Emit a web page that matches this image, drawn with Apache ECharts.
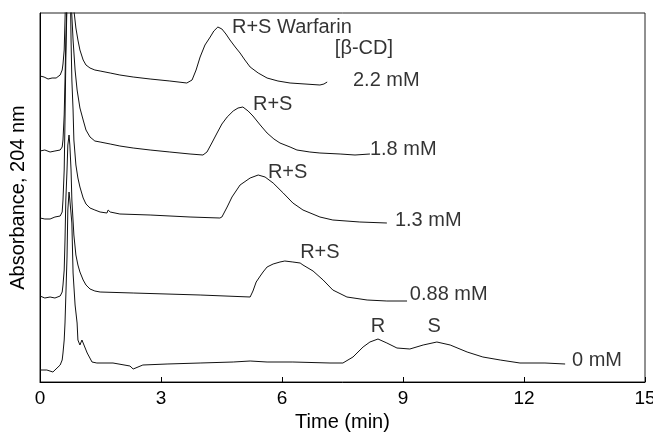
<!DOCTYPE html>
<html>
<head>
<meta charset="utf-8">
<script src="https://cdn.jsdelivr.net/npm/echarts@6/dist/echarts.min.js"></script>
<style>
  html, body { margin: 0; padding: 0; background: #fff; }
  #chart { width: 653px; height: 433px; }
</style>
</head>
<body>
<div id="chart"></div>
<script>
// chromatograms, [time (min), absorbance (arb. units, stacked offset included)]
const trace22 = [
  [0, 306], [0.10, 305], [0.20, 303], [0.30, 304], [0.40, 304], [0.50, 307], [0.55, 312], [0.57, 318],
  [0.60, 332], [0.62, 362], [0.64, 392], [0.72, 532], [0.79, 402], [0.84, 372], [0.89, 354], [0.94, 342],
  [0.99, 332], [1.07, 322], [1.14, 317], [1.24, 314], [1.36, 312], [1.49, 311], [1.74, 309], [1.98, 307],
  [2.31, 305], [2.73, 303], [3.22, 301], [3.64, 299], [3.77, 302], [3.87, 312], [3.97, 325], [4.09, 337],
  [4.22, 345], [4.31, 351], [4.41, 355], [4.51, 353], [4.61, 348], [4.71, 342], [4.84, 335], [4.96, 329],
  [5.08, 322], [5.21, 315], [5.41, 309], [5.63, 304], [5.90, 301], [6.20, 299], [6.57, 298], [6.94, 297],
  [7.04, 298], [7.12, 300]
]
const trace18 = [
  [0, 231], [0.12, 232], [0.25, 230], [0.37, 231], [0.50, 232], [0.55, 235], [0.57, 242], [0.60, 267],
  [0.62, 302], [0.64, 342], [0.67, 382], [0.72, 482], [0.77, 382], [0.82, 342], [0.87, 312], [0.92, 292],
  [0.99, 274], [1.07, 262], [1.14, 252], [1.24, 245], [1.36, 241], [1.49, 240], [1.74, 238], [1.98, 236],
  [2.31, 234], [2.73, 232], [3.22, 230], [3.72, 228], [4.04, 227], [4.14, 230], [4.26, 239], [4.39, 249],
  [4.51, 258], [4.64, 265], [4.79, 271], [4.91, 274], [5.03, 275], [5.16, 271], [5.28, 266], [5.46, 257],
  [5.63, 249], [5.80, 243], [5.95, 239], [6.20, 235], [6.37, 232], [6.69, 230], [6.94, 229], [7.44, 228],
  [7.81, 227], [8.18, 228]
]
const trace13 = [
  [0, 164], [0.12, 163], [0.25, 163], [0.37, 165], [0.50, 166], [0.55, 170], [0.57, 182], [0.60, 212],
  [0.62, 262], [0.64, 322], [0.67, 382], [0.72, 482], [0.77, 342], [0.79, 302], [0.82, 272], [0.84, 242],
  [0.89, 217], [0.94, 204], [0.99, 195], [1.07, 184], [1.14, 178], [1.24, 174], [1.36, 172], [1.49, 170],
  [1.66, 169], [1.69, 172], [1.74, 170], [1.98, 168], [2.73, 167], [3.72, 165], [4.46, 164], [4.51, 165],
  [4.64, 175], [4.76, 185], [4.96, 197], [5.21, 204], [5.41, 207], [5.58, 205], [5.78, 199], [6.03, 189],
  [6.27, 179], [6.52, 172], [6.94, 165], [7.26, 162], [7.93, 160], [8.60, 159]
]
const trace088 = [
  [0, 86], [0.12, 84], [0.25, 85], [0.37, 84], [0.50, 86], [0.55, 90], [0.57, 97], [0.60, 112],
  [0.62, 142], [0.64, 182], [0.67, 212], [0.69, 237], [0.72, 247], [0.74, 237], [0.77, 212], [0.79, 182],
  [0.84, 147], [0.89, 127], [0.94, 117], [0.99, 110], [1.07, 102], [1.14, 97], [1.24, 93], [1.36, 91],
  [1.49, 90], [2.31, 89], [3.97, 87], [5.21, 85], [5.28, 91], [5.36, 100], [5.46, 106], [5.53, 110],
  [5.63, 115], [5.78, 118], [5.95, 120], [6.07, 121], [6.27, 120], [6.45, 119], [6.52, 117], [6.77, 111],
  [7.02, 102], [7.26, 92], [7.61, 85], [8.11, 82], [8.60, 81], [9.10, 81]
]
const trace0 = [
  [0, 12], [0.17, 12], [0.32, 10], [0.50, 17], [0.55, 22], [0.57, 29], [0.60, 42], [0.62, 59],
  [0.67, 125], [0.69, 172], [0.72, 190], [0.74, 182], [0.79, 159], [0.82, 109], [0.87, 77], [0.92, 59],
  [0.94, 42], [0.99, 37], [1.04, 42], [1.07, 40], [1.17, 29], [1.29, 20], [1.41, 19], [1.81, 19],
  [2.23, 16], [2.31, 13], [2.55, 17], [3.15, 18], [3.97, 19], [4.79, 20], [5.21, 21], [5.63, 20],
  [6.27, 20], [7.19, 19], [7.51, 19], [7.76, 25], [8.01, 35], [8.18, 40], [8.38, 43], [8.60, 39],
  [8.85, 34], [9.17, 33], [9.50, 37], [9.84, 40], [10.17, 37], [10.59, 30], [10.98, 25], [11.41, 22],
  [11.90, 19], [12.52, 19], [13.02, 18]
]

const xTicks = [0, 3, 6, 9, 12, 15]

// annotations: text, time, absorbance, alignment
const notes = [
  ['R+S Warfarin', 4.76, 355, 'left'],
  ['[β-CD]', 7.31, 334, 'left'],
  ['2.2 mM', 7.76, 302, 'left'],
  ['R+S', 5.28, 278, 'left'],
  ['1.8 mM', 8.18, 233, 'left'],
  ['R+S', 5.65, 210, 'left'],
  ['1.3 mM', 8.80, 162, 'left'],
  ['R+S', 6.45, 130, 'left'],
  ['0.88 mM', 9.17, 88, 'left'],
  ['R', 8.38, 56, 'center'],
  ['S', 9.77, 56, 'center'],
  ['0 mM', 13.19, 22, 'left']
]

const font = 'Liberation Sans, Arial, Helvetica, sans-serif'
let myChart = echarts.init(document.getElementById('chart'), null, { renderer: 'canvas' })

function trace(name, data) {
  return {
    name: name,
    type: 'line',
    data: data,
    showSymbol: false,
    clip: true,
    silent: true,
    lineStyle: { color: '#111', width: 1 }
  }
}

let option = {
  animation: false,
  backgroundColor: '#fff',
  textStyle: { fontFamily: font, color: '#000' },
  grid: {
    left: 40, right: 8, top: 13, bottom: 51,
    outerBoundsMode: 'none',
    containLabel: false,
    show: true, borderColor: '#222', borderWidth: 1
  },
  xAxis: {
    type: 'value',
    min: 0, max: 15, interval: 3,
    name: 'Time (min)',
    nameLocation: 'middle',
    nameGap: 29,
    nameTextStyle: { fontSize: 20, color: '#000', fontFamily: font },
    axisLine: { lineStyle: { color: '#000', width: 1 } },
    axisTick: { inside: true, length: 5, lineStyle: { color: '#000' } },
    axisLabel: {
      fontSize: 19, color: '#000', fontFamily: font, margin: 7,
      formatter: v => xTicks.includes(v) ? String(v) : ''
    },
    splitLine: { show: false }
  },
  yAxis: {
    type: 'value',
    min: 0, max: 369,
    name: 'Absorbance, 204 nm',
    nameLocation: 'middle',
    nameGap: 12,
    nameTextStyle: { fontSize: 20, color: '#000', fontFamily: font },
    axisLine: { show: true, lineStyle: { color: '#000', width: 1 } },
    axisTick: { show: false },
    axisLabel: { show: false },
    splitLine: { show: false }
  },
  series: [
    trace('2.2 mM', trace22),
    trace('1.8 mM', trace18),
    trace('1.3 mM', trace13),
    trace('0.88 mM', trace088),
    trace('0 mM', trace0),
    {
      type: 'scatter',
      silent: true,
      symbolSize: 0,
      data: notes.map(n => ({
        value: [n[1], n[2]],
        label: { formatter: n[0], align: n[3] }
      })),
      label: {
        show: true,
        position: 'inside',
        verticalAlign: 'middle',
        fontSize: 20,
        color: '#000',
        fontFamily: font
      }
    }
  ]
}

myChart.setOption(option)
</script>
</body>
</html>
